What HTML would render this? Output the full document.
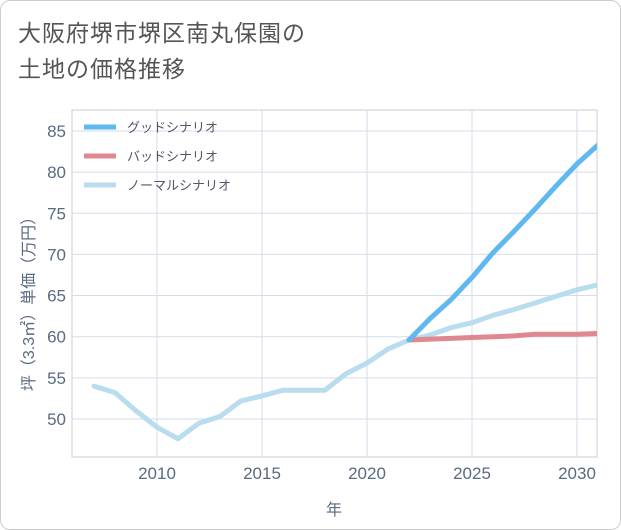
<!DOCTYPE html>
<html><head><meta charset="utf-8"><style>
body{margin:0;background:#fff;font-family:"Liberation Sans","Noto Sans CJK JP",sans-serif;}
#wrap{position:relative;width:619px;height:528px;border:1px solid #ccc;border-radius:10px;background:#fff;overflow:hidden}
#title{position:absolute;left:17px;top:14px;font-size:23px;line-height:36px;color:#555;letter-spacing:1px}
svg text{font-family:"Liberation Sans","Noto Sans CJK JP",sans-serif}
</style></head><body>
<div id="wrap">
<div id="title">大阪府堺市堺区南丸保園の<br>土地の価格推移</div>
<svg id="chart" width="621" height="530" style="position:absolute;left:-1px;top:-1px"></svg>
</div>
<script>
const years=[2007,2008,2009,2010,2011,2012,2013,2014,2015,2016,2017,2018,2019,2020,2021,2022,2023,2024,2025,2026,2027,2028,2029,2030,2031];
const normal=[54,53.2,51,49,47.6,49.5,50.3,52.2,52.8,53.5,53.5,53.5,55.5,56.8,58.5,59.6,60.2,61.1,61.7,62.6,63.3,64.1,64.9,65.7,66.3];
const goodYears=[2022,2023,2024,2025,2026,2027,2028,2029,2030,2031];
const good=[59.6,62.2,64.5,67.2,70.2,72.8,75.5,78.3,81.0,83.3];
const bad=[59.6,59.7,59.8,59.9,60.0,60.1,60.3,60.3,60.3,60.4];
const xTicks=[2010,2015,2020,2025,2030];
const yTicks=[50,55,60,65,70,75,80,85];
const legendLabels=["グッドシナリオ","バッドシナリオ","ノーマルシナリオ"];
const NS="http://www.w3.org/2000/svg";
const svg=document.getElementById('chart');
const L=72,R=597,T=110,B=457;
const x=v=>157+(v-2010)*21.0;
const y=v=>419-(v-50)*8.23;
function mk(t,a){const e=document.createElementNS(NS,t);for(const k in a)e.setAttribute(k,a[k]);svg.appendChild(e);return e;}
const bg=mk('rect',{x:L,y:T,width:R-L,height:B-T,fill:'#fff',stroke:'#ccc'});


xTicks.forEach(v=>{
 const g=mk('line',{x1:x(v),x2:x(v),y1:T,y2:B,stroke:'#d5dde8'});
 
 
 const t=mk('text',{x:x(v),y:479,'text-anchor':'middle','font-size':17,fill:'#5a6a80'});t.textContent=v;
 
 
});
yTicks.forEach(v=>{
 const g=mk('line',{x1:L,x2:R,y1:y(v),y2:y(v),stroke:'#d5dde8'});
 
 
 const t=mk('text',{x:66,y:y(v)+6,'text-anchor':'end','font-size':17,fill:'#5a6a80'});t.textContent=v;
 
 
});
const xt=mk('text',{x:334,y:515,'text-anchor':'middle','font-size':16,fill:'#5a6a80'});xt.textContent='年';


const yt=mk('text',{x:0,y:0,'text-anchor':'middle','font-size':16,fill:'#5a6a80',transform:'translate(34,300) rotate(-90)'});yt.textContent='坪（3.3㎡）単価（万円）';


function line(xs,vs,color,name){
 const p=mk('polyline',{points:xs.map((yr,i)=>x(yr)+','+y(vs[i])).join(' '),fill:'none',stroke:color,'stroke-width':5,'stroke-linejoin':'round','stroke-linecap':'round','clip-path':'url(#clip)'});
 
 
}
const cp=mk('clipPath',{id:'clip'});const cr=document.createElementNS(NS,'rect');
cr.setAttribute('x',L);cr.setAttribute('y',T);cr.setAttribute('width',R-L);cr.setAttribute('height',B-T);cp.appendChild(cr);
line(years,normal,'#b9dcef','normal-scenario-line');
line(goodYears,bad,'#e08890','bad-scenario-line');
line(goodYears,good,'#5fb8f0','good-scenario-line');
const colors=['#5fb8f0','#e08890','#b9dcef'];
legendLabels.forEach((s,i)=>{
 const ly=127+i*29;
 const l=mk('line',{x1:84,x2:116,y1:ly,y2:ly,stroke:colors[i],'stroke-width':5});
 
 
 const t=mk('text',{x:127,y:ly+5,'font-size':13,fill:'#556'});t.textContent=s;
 
 
});
</script>
</body></html>
